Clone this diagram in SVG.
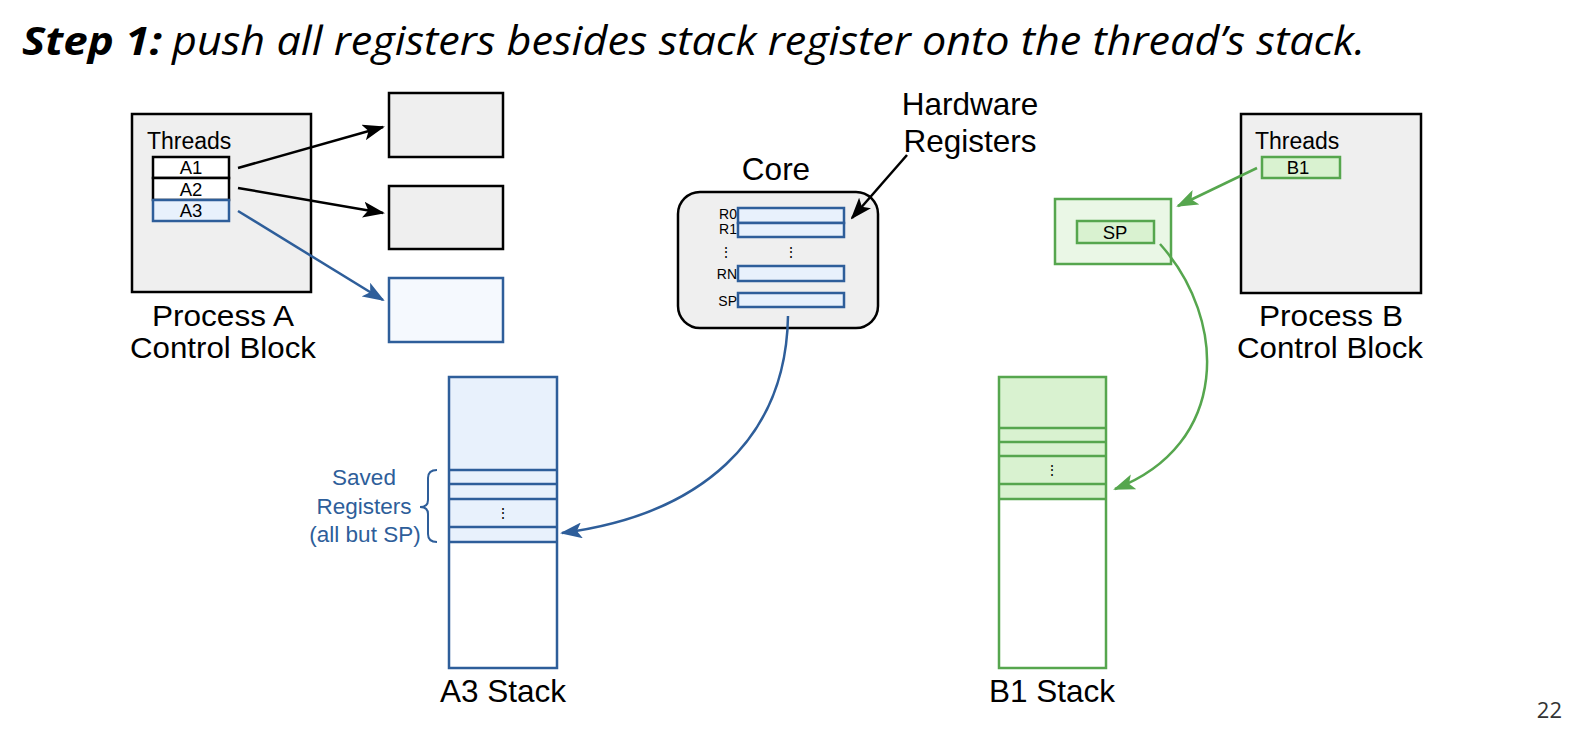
<svg xmlns="http://www.w3.org/2000/svg" width="1572" height="730" viewBox="0 0 1572 730">
<style>
.t{font-family:"Liberation Sans",Arial,sans-serif;fill:#000}
.big{font-size:31.5px}
.pc{font-size:29px}
.mid{font-size:23px}
.sv{font-size:22.5px}
.sm{font-size:18.5px}
.xs{font-size:14px}
.ttl{font-family:"Open Sans","Noto Sans",sans-serif;font-style:italic;font-size:40px;fill:#000}
.gbox{fill:#efefef;stroke:#000;stroke-width:2.5}
.bk{fill:#fff;stroke:#000;stroke-width:2.5}
.bl{fill:#e8f1fc;stroke:#2e5e9a;stroke-width:2.5}
.gr{fill:#d9f2d0;stroke:#56a64e;stroke-width:2.5}
.grl{fill:#eaf7e6;stroke:#56a64e;stroke-width:2.5}
.blt{fill:#2e5e9a}
</style>
<defs>
<marker id="ak" markerUnits="userSpaceOnUse" markerWidth="22" markerHeight="16" refX="20" refY="8" orient="auto"><path d="M0,0 L22,8 L0,16 L5,8 Z" fill="#000"/></marker>
<marker id="ab" markerUnits="userSpaceOnUse" markerWidth="22" markerHeight="16" refX="20" refY="8" orient="auto"><path d="M0,0 L22,8 L0,16 L5,8 Z" fill="#2e5e9a"/></marker>
<marker id="ag" markerUnits="userSpaceOnUse" markerWidth="22" markerHeight="16" refX="20" refY="8" orient="auto"><path d="M0,0 L22,8 L0,16 L5,8 Z" fill="#56a64e"/></marker>
</defs>
<rect width="1572" height="730" fill="#fff"/>
<g id="title">
<text class="ttl" x="22" y="55" font-weight="bold" textLength="140" lengthAdjust="spacingAndGlyphs">Step 1:</text>
<text class="ttl" x="172" y="55" textLength="1193" lengthAdjust="spacingAndGlyphs">push all registers besides stack register onto the thread’s stack.</text>
</g>
<g id="processA">
<rect class="gbox" x="132" y="114" width="179" height="178"/>
<text class="t mid" x="147" y="149">Threads</text>
<rect class="bk" x="153" y="157" width="76" height="21"/>
<text class="t sm" x="191" y="174" text-anchor="middle">A1</text>
<rect class="bk" x="153" y="178" width="76" height="22"/>
<text class="t sm" x="191" y="196" text-anchor="middle">A2</text>
<rect class="bl" x="153" y="200" width="76" height="21"/>
<text class="t sm" x="191" y="217" text-anchor="middle">A3</text>
<text class="t pc" x="152" y="326" textLength="142" lengthAdjust="spacingAndGlyphs">Process A</text>
<text class="t pc" x="130" y="358" textLength="186" lengthAdjust="spacingAndGlyphs">Control Block</text>
</g>
<g id="threadA1"><rect class="gbox" x="389" y="93" width="114" height="64"/></g>
<g id="threadA2"><rect class="gbox" x="389" y="186" width="114" height="63"/></g>
<g id="threadA3"><rect fill="#f5f9fe" stroke="#2e5e9a" stroke-width="2.5" x="389" y="278" width="114" height="64"/></g>
<g id="core">
<text class="t big" x="776" y="180" text-anchor="middle">Core</text>
<rect class="gbox" x="678" y="192" width="200" height="136" rx="22"/>
<rect class="bl" x="738" y="208" width="106" height="15"/>
<rect class="bl" x="738" y="223" width="106" height="14"/>
<rect class="bl" x="738" y="266" width="106" height="15"/>
<rect class="bl" x="738" y="293" width="106" height="14"/>
<text class="t xs" x="737" y="219" text-anchor="end">R0</text>
<text class="t xs" x="737" y="234" text-anchor="end">R1</text>
<text class="t xs" x="737" y="279" text-anchor="end">RN</text>
<text class="t xs" x="737" y="306" text-anchor="end">SP</text>
<text class="t xs" x="726" y="257" text-anchor="middle" font-family="DejaVu Sans">⋮</text>
<text class="t xs" x="791" y="257" text-anchor="middle" font-family="DejaVu Sans">⋮</text>
</g>
<g id="hwlabel">
<text class="t big" x="970" y="115" text-anchor="middle">Hardware</text>
<text class="t big" x="970" y="152" text-anchor="middle">Registers</text>
</g>
<g id="processB">
<rect class="gbox" x="1241" y="114" width="180" height="179"/>
<text class="t mid" x="1255" y="149">Threads</text>
<rect class="gr" x="1262" y="157" width="78" height="21"/>
<text class="t sm" x="1298" y="174" text-anchor="middle">B1</text>
<text class="t pc" x="1259" y="326" textLength="144" lengthAdjust="spacingAndGlyphs">Process B</text>
<text class="t pc" x="1237" y="358" textLength="186" lengthAdjust="spacingAndGlyphs">Control Block</text>
</g>
<g id="threadB1">
<rect class="grl" x="1055" y="199" width="116" height="65"/>
<rect class="gr" x="1077" y="221" width="77" height="22"/>
<text class="t sm" x="1115" y="239" text-anchor="middle">SP</text>
</g>
<g id="stackA3">
<rect fill="#e8f1fc" x="449" y="377" width="108" height="165"/>
<rect fill="none" stroke="#2e5e9a" stroke-width="2.5" x="449" y="377" width="108" height="291"/>
<path d="M449,470 H557 M449,484 H557 M449,499 H557 M449,527 H557 M449,542 H557" stroke="#2e5e9a" stroke-width="2.5"/>
<text class="t xs" x="503" y="518" text-anchor="middle" font-family="DejaVu Sans" fill="#2e5e9a">⋮</text>
<text class="t big" x="503" y="702" text-anchor="middle">A3 Stack</text>
</g>
<g id="savedlabel">
<path d="M437,470 Q428,470 428,478 L428,500 Q428,507 420,507 Q428,507 428,514 L428,534 Q428,542 437,542" fill="none" stroke="#2e5e9a" stroke-width="2"/>
<text class="t sv blt" x="364" y="485" text-anchor="middle">Saved</text>
<text class="t sv blt" x="364" y="514" text-anchor="middle">Registers</text>
<text class="t sv blt" x="365" y="542" text-anchor="middle">(all but SP)</text>
</g>
<g id="stackB1">
<rect fill="#d9f2d0" x="999" y="377" width="107" height="122"/>
<rect fill="none" stroke="#56a64e" stroke-width="2.5" x="999" y="377" width="107" height="291"/>
<path d="M999,428 H1106 M999,442 H1106 M999,456 H1106 M999,484 H1106 M999,499 H1106" stroke="#56a64e" stroke-width="2.5"/>
<text class="t xs" x="1052" y="475" text-anchor="middle" font-family="DejaVu Sans">⋮</text>
<text class="t big" x="1052" y="702" text-anchor="middle">B1 Stack</text>
</g>
<g id="connectors" fill="none" stroke-width="2.5">
<line x1="238" y1="168" x2="383" y2="127" stroke="#000" marker-end="url(#ak)"/>
<line x1="238" y1="188" x2="383" y2="213" stroke="#000" marker-end="url(#ak)"/>
<line x1="238" y1="211" x2="383" y2="300" stroke="#2e5e9a" marker-end="url(#ab)"/>
<line x1="907" y1="155" x2="852" y2="218" stroke="#000" marker-end="url(#ak)"/>
<line x1="1257" y1="168" x2="1178" y2="206" stroke="#56a64e" marker-end="url(#ag)"/>
<path d="M788,316 C786,440 700,515 562,533" stroke="#2e5e9a" marker-end="url(#ab)"/>
<path d="M1160,244 C1228,320 1230,445 1115,489" stroke="#56a64e" marker-end="url(#ag)"/>
</g>
<text x="1562" y="718" text-anchor="end" font-family="Open Sans, sans-serif" font-size="22" fill="#333">22</text>
</svg>
